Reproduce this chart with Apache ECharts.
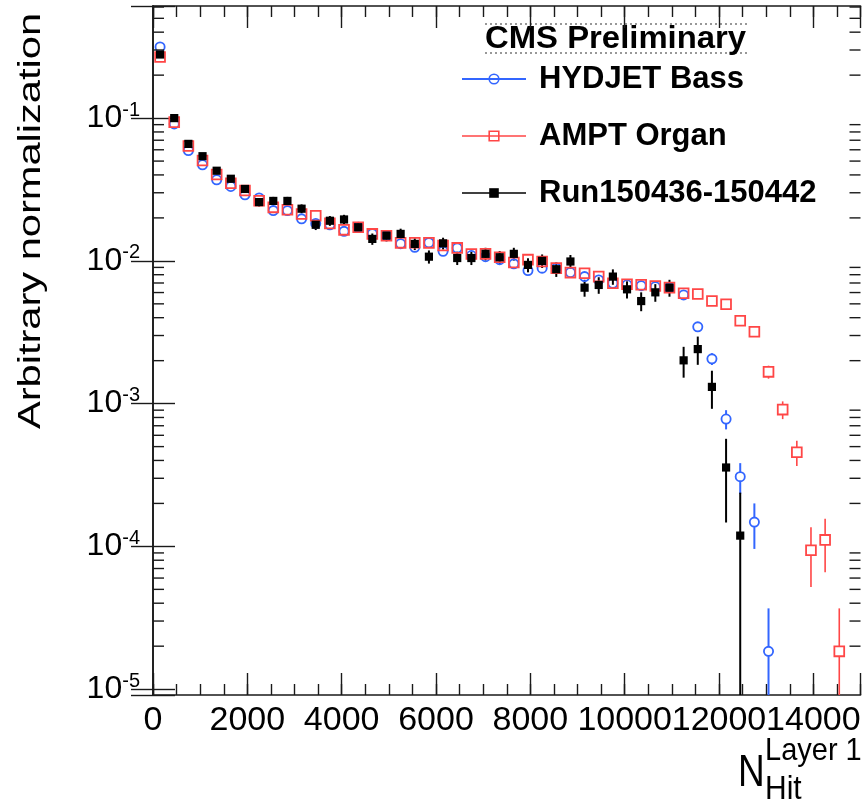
<!DOCTYPE html>
<html><head><meta charset="utf-8">
<script src="https://cdn.jsdelivr.net/npm/echarts@6/dist/echarts.min.js"></script>
<style>html,body{margin:0;padding:0;background:#fff}#c{width:863px;height:803px}</style>
</head><body><div id="c"></div>
<script>
// ---------- data ----------
const binCenters = [150,450,750,1050,1350,1650,1950,2250,2550,2850,3150,3450,3750,4050,4350,4650,4950,5250,5550,5850,6150,6450,6750,7050,7350,7650,7950,8250,8550,8850,9150,9450,9750,10050,10350,10650,10950,11250,11550,11850,12150,12450,12750,13050,13350,13650,13950,14250,14550,14850];

const hydjetValues = [0.315,0.091,0.0593,0.0471,0.037,0.0332,0.029,0.0276,0.0225,0.0225,0.0197,0.0183,0.0179,0.0161,0.0172,0.0155,0.0150,0.0132,0.01245,0.0134,0.01167,0.0123,0.0109,0.0107,0.0102,0.00953,0.00855,0.00889,0.0089,0.0083,0.00776,0.00735,0.00697,0.0068,0.0067,0.0066,0.0065,0.00577,0.00345,0.00206,0.00078,0.000308,0.000148,0.0000184,null,null,null,null,null,null];
const hydjetErrors = [0.0024,0.0013,0.00104,0.00093,0.00082,0.00078,0.00073,0.00071,0.00064,0.00064,0.0006,0.00058,0.00057,0.00054,0.00056,0.00053,0.00053,0.00049,0.00048,0.0005,0.00046,0.00048,0.00045,0.00044,0.00043,0.00042,0.0004,0.0004,0.0004,0.00039,0.00038,0.00037,0.00036,0.00035,0.00035,0.00035,0.00035,0.00033,0.00025,0.000195,0.00012,0.000075,0.000052,0.0000184,null,null,null,null,null,null];

const amptValues = [0.268,0.0937,0.0637,0.0505,0.0403,0.035,0.0311,0.0264,0.0237,0.0228,0.0213,0.0207,0.0183,0.0165,0.0172,0.01545,0.0150,0.01337,0.0134,0.01337,0.0128,0.01233,0.01117,0.0112,0.0106,0.00973,0.0102,0.0099,0.0089,0.00828,0.0082,0.00776,0.00697,0.00686,0.0068,0.00667,0.0065,0.00593,0.00586,0.00524,0.00497,0.00381,0.00319,0.00167,0.000908,0.000457,0.000094,0.000111,0.0000184,null];
const amptErrors = [0.0022,0.0013,0.00108,0.00096,0.00086,0.0008,0.00076,0.0007,0.00066,0.00065,0.00063,0.00062,0.00058,0.00055,0.00056,0.00053,0.00053,0.0005,0.0005,0.0005,0.00049,0.00048,0.00045,0.00045,0.00044,0.00042,0.00043,0.00043,0.0004,0.00039,0.00039,0.00038,0.00036,0.00036,0.00035,0.00035,0.00035,0.00033,0.00033,0.00031,0.0003,0.00026,0.00024,0.000175,0.000129,0.000092,0.000042,0.000045,0.0000184,null];

const runValues = [0.279,0.100,0.066,0.0541,0.0428,0.0376,0.0319,0.0258,0.0263,0.0263,0.0232,0.0179,0.0191,0.0195,0.0172,0.01425,0.01503,0.01545,0.01315,0.0107,0.01327,0.01047,0.01047,0.0112,0.0106,0.0112,0.00937,0.0100,0.00874,0.0099,0.00649,0.00678,0.00776,0.00632,0.00523,0.00602,0.00649,0.00201,0.00241,0.00131,0.000357,0.000119,null,null,null,null,null,null,null,null];
const runErrors = [0.00576,0.00345,0.0028,0.00254,0.00226,0.00212,0.00195,0.00175,0.00177,0.00177,0.00166,0.00146,0.00151,0.00152,0.00143,0.0013,0.00134,0.00136,0.00125,0.00113,0.00126,0.00112,0.00112,0.00115,0.00112,0.00115,0.00106,0.00109,0.00102,0.00109,0.00088,0.0009,0.00096,0.00087,0.00079,0.00085,0.00088,0.00049,0.00054,0.00039,0.00021,0.000119,null,null,null,null,null,null,null,null];

const seriesNames = ['HYDJET Bass','AMPT Organ','Run150436-150442'];
const xTickLabels = [0,2000,4000,6000,8000,10000,12000,14000];
const yTickExponents = [-1,-2,-3,-4,-5];
const yMinorMultipliers = [2,3,4,5,6,7,8,9];

// ---------- style ----------
const FONT = "'Liberation Sans', Arial, Helvetica, sans-serif";
const BLUE = '#3366ff', RED = '#ff4646', BLACK = '#000000', AXIS = '#1a1a1a';
const X_MIN = 0, X_MAX = 15000, Y_MIN = 9.1e-6, Y_MAX = 0.61;

function pts3(vals, errs){ const o=[]; binCenters.forEach((x,i)=>{ if(vals[i]!=null) o.push([x, vals[i], errs[i]]); }); return o; }
function pts2(vals){ const o=[]; binCenters.forEach((x,i)=>{ if(vals[i]!=null) o.push([x, vals[i]]); }); return o; }

function errRender(gap, color, width){
  return function(params, api){
    const x = api.value(0), v = api.value(1), e = api.value(2);
    const cs = params.coordSys;
    const bottom = cs.y + cs.height, top = cs.y;
    const c = api.coord([x, v]);
    let yHi = Math.max(api.coord([x, v + e])[1], top);
    let yLo = (v - e) > Y_MIN ? api.coord([x, v - e])[1] : bottom;
    const ch = [];
    if (yHi < c[1] - gap) ch.push({type:'line', shape:{x1:c[0], y1:yHi, x2:c[0], y2:c[1]-gap}, style:{stroke:color, lineWidth:width}});
    if (yLo > c[1] + gap) ch.push({type:'line', shape:{x1:c[0], y1:c[1]+gap, x2:c[0], y2:yLo}, style:{stroke:color, lineWidth:width}});
    return {type:'group', children: ch};
  };
}
function errSeries(id, vals, errs, gap, color, width){
  return {type:'custom', name:id, data: pts3(vals, errs), encode:{x:0, y:1}, renderItem: errRender(gap, color, width), silent:true, clip:true, animation:false};
}
function markSeries(name, vals, symbol, size, itemStyle){
  return {type:'line', name, data: pts2(vals), symbol, symbolSize:size, showSymbol:true, showAllSymbol:true,
    lineStyle:{width:0}, itemStyle, silent:true, clip:true, animation:false, emphasis:{disabled:true}};
}

// minor log ticks (axis decoration)
const minorTicks = [];
[-1,-2,-3,-4,-5].forEach(d => yMinorMultipliers.forEach(m => { const v = m*Math.pow(10,d); if (v > Y_MIN && v < Y_MAX) minorTicks.push([X_MIN, v]); }));
const minorTickSeries = {
  type:'custom', name:'_minorY', data: minorTicks, encode:{x:0,y:1}, silent:true, animation:false, z:5,
  renderItem(params, api){
    const v = api.value(1);
    const pL = api.coord([X_MIN, v]), pR = api.coord([X_MAX, v]);
    return {type:'group', children:[
      {type:'line', shape:{x1:pL[0], y1:pL[1], x2:pL[0]+11, y2:pL[1]}, style:{stroke:AXIS, lineWidth:1.4}},
      {type:'line', shape:{x1:pR[0]-11, y1:pR[1], x2:pR[0], y2:pR[1]}, style:{stroke:AXIS, lineWidth:1.4}}
    ]};
  }
};

const axisLine = {show:true, lineStyle:{color:AXIS, width:1.6}};
function xAx(pos, interval, len, labels, line){
  return {type:'value', min:X_MIN, max:X_MAX, interval, position:pos, gridIndex:0,
    axisLine: line ? axisLine : {show:false},
    axisTick:{show:true, inside:true, length:len, lineStyle:{color:AXIS, width:1.4}},
    axisLabel: labels ? {show:true, fontSize:34, fontFamily:FONT, color:'#000', margin:9, hideOverlap:false,
      formatter: v => xTickLabels.indexOf(v) >= 0 ? String(v) : ''} : {show:false},
    splitLine:{show:false}, minorTick:{show:false}};
}
function yAx(pos, labels){
  return {type:'log', logBase:10, min:Y_MIN, max:Y_MAX, position:pos, gridIndex:0,
    axisLine: axisLine,
    axisTick:{show:true, inside:true, length:22, lineStyle:{color:AXIS, width:1.4}},
    axisLabel: labels ? {show:true, margin:13, hideOverlap:false,
      formatter: v => { const e = Math.log10(v), r = Math.round(e); return (Math.abs(e-r) < 1e-6 && yTickExponents.indexOf(r) >= 0) ? '{a|10}{b|' + r + '}' : ''; },
      rich:{a:{fontSize:32, fontFamily:FONT, color:'#000', lineHeight:36},
            b:{fontSize:20, fontFamily:FONT, color:'#000', verticalAlign:'top', lineHeight:16}}} : {show:false},
    splitLine:{show:false}, minorTick:{show:false}};
}

const option = {
  animation:false,
  backgroundColor:'#ffffff',
  grid:{left:153, right:2.5, top:6, bottom:108, outerBoundsMode:'none', containLabel:false},
  xAxis:[ xAx('bottom',2000,22,true,true), xAx('bottom',500,11,false,false), xAx('top',2000,22,false,true), xAx('top',500,11,false,false) ],
  yAxis:[ yAx('left', true), yAx('right', false) ],
  legend:{
    orient:'vertical', left:456, top:57, itemWidth:64, itemHeight:12, itemGap:23, selectedMode:false,
    textStyle:{fontSize:31, fontWeight:'bold', fontFamily:FONT, color:'#000', lineHeight:34, padding:[0,0,0,8]},
    data:[
      {name:seriesNames[0], itemStyle:{color:'rgba(0,0,0,0)', borderColor:BLUE, borderWidth:1.6, opacity:1}, lineStyle:{color:BLUE, width:2, opacity:1, type:'solid'}},
      {name:seriesNames[1], itemStyle:{color:'rgba(0,0,0,0)', borderColor:RED, borderWidth:1.6, opacity:1}, lineStyle:{color:RED, width:1.6, opacity:1, type:'solid'}},
      {name:seriesNames[2], itemStyle:{color:BLACK, borderWidth:0, opacity:1}, lineStyle:{color:BLACK, width:1.6, opacity:1, type:'solid'}}
    ]
  },
  graphic:[
    {type:'text', x:31, y:221, rotation:Math.PI/2, scaleX:1.3, silent:true,
      style:{text:'Arbitrary normalization', fontSize:32, fontFamily:FONT, fill:'#000', align:'center', verticalAlign:'middle'}},
    {type:'line', silent:true, shape:{x1:485, y1:24, x2:747, y2:24}, style:{stroke:'#333', lineWidth:1.2, lineDash:[2,3]}},
    {type:'line', silent:true, shape:{x1:485, y1:53, x2:747, y2:53}, style:{stroke:'#333', lineWidth:1.2, lineDash:[2,3]}},
    {type:'text', x:485, y:39, scaleX:1.06, silent:true,
      style:{text:'CMS Preliminary', fontSize:31, fontWeight:'bold', fontFamily:FONT, fill:'#000', align:'left', verticalAlign:'middle'}},
    {type:'text', x:738, y:774, scaleY:1.22, silent:true,
      style:{text:'N', fontSize:37, fontFamily:FONT, fill:'#000', align:'left', verticalAlign:'middle'}},
    {type:'text', x:765, y:751, scaleY:1.08, silent:true,
      style:{text:'Layer 1', fontSize:29, fontFamily:FONT, fill:'#000', align:'left', verticalAlign:'middle'}},
    {type:'text', x:765, y:790, scaleY:1.1, silent:true,
      style:{text:'Hit', fontSize:30, fontFamily:FONT, fill:'#000', align:'left', verticalAlign:'middle'}}
  ],
  series:[
    minorTickSeries,
    errSeries('_errH', hydjetValues, hydjetErrors, 4.6, BLUE, 2),
    markSeries(seriesNames[0], hydjetValues, 'circle', 9.2, {color:'rgba(0,0,0,0)', borderColor:BLUE, borderWidth:1.8}),
    errSeries('_errA', amptValues, amptErrors, 4.9, RED, 1.6),
    markSeries(seriesNames[1], amptValues, 'rect', 9.8, {color:'rgba(0,0,0,0)', borderColor:RED, borderWidth:1.8}),
    errSeries('_errR', runValues, runErrors, 0, BLACK, 2),
    markSeries(seriesNames[2], runValues, 'rect', 8.2, {color:BLACK, borderWidth:0})
  ]
};
const chart = echarts.init(document.getElementById('c'), null, {renderer:'canvas'});
chart.setOption(option);
</script></body></html>
